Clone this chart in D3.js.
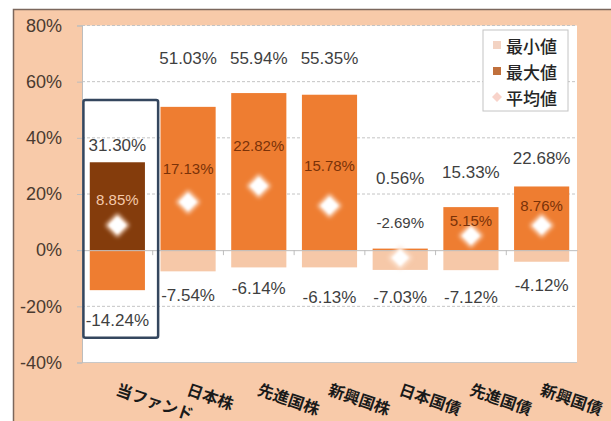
<!DOCTYPE html>
<html>
<head>
<meta charset="utf-8">
<script src="https://cdn.jsdelivr.net/npm/d3@7"></script>
<style>
  body { margin: 0; background: #fff; }
  text { font-family: "Liberation Sans", Arial, sans-serif; }
  .jp { font-family: "Noto Sans CJK JP", sans-serif; }
</style>
</head>
<body>
<div id="chart"></div>
<script>
// Categories and values (percent).
const categories = ["当ファンド", "日本株", "先進国株", "新興国株", "日本国債", "先進国債", "新興国債"];
const maxValues = [31.30, 51.03, 55.94, 55.35, 0.56, 15.33, 22.68];
const minValues = [-14.24, -7.54, -6.14, -6.13, -7.03, -7.12, -4.12];
const avgValues = [8.85, 17.13, 22.82, 15.78, -2.69, 5.15, 8.76];

// Where each data label sits, in percent units.
const maxLabelAt = [37.4, 68.3, 68.3, 68.3, 25.6, 27.8, 32.7];
const avgLabelAt = [18.1, 29.2, 37.4, 30.2, 10.0, 10.7, 16.0];
const minLabelAt = [-24.9, -16.0, -13.5, -16.7, -16.7, -16.7, -12.5];

const yTicks = [80, 60, 40, 20, 0, -20, -40];
const legendItems = ["最小値", "最大値", "平均値"];
// Range of the highlight frame around the fund (percent units).
const highlightRange = [53.5, -31.2];

const w = 611, h = 421;
const plot = { left: 82, right: 577, top: 25.5, bottom: 362.5 };

const colOrange = "#ee7d31", colDark = "#843c0c", colLight = "#f6c8a8", colFrame = "#f8caa9";

const x = d3.scaleBand()
    .domain(categories)
    .range([plot.left, plot.right])
    .paddingInner(0.22)
    .paddingOuter(0.11);
const y = d3.scaleLinear()
    .domain([-40, 80])
    .range([plot.bottom, plot.top]);

const svg = d3.select("#chart").append("svg")
    .attr("width", w)
    .attr("height", h);

// Soft glow for the average diamonds.
const defs = svg.append("defs");
defs.append("filter").attr("id", "glow")
    .attr("x", "-50%").attr("y", "-50%").attr("width", "200%").attr("height", "200%")
    .append("feGaussianBlur").attr("stdDeviation", 2.2);
defs.append("filter").attr("id", "soft")
    .append("feGaussianBlur").attr("stdDeviation", 0.8);

// Outer frame.
svg.append("rect")
    .attr("x", 13.5).attr("y", 9.5)
    .attr("width", w).attr("height", h)
    .attr("fill", colFrame)
    .attr("stroke", "#7b675c")
    .attr("stroke-width", 1.5);

// Plot area.
svg.append("rect")
    .attr("x", plot.left).attr("y", plot.top)
    .attr("width", plot.right - plot.left)
    .attr("height", plot.bottom - plot.top)
    .attr("fill", "#fff");

// Gridlines.
svg.append("g").selectAll("line")
    .data(yTicks.filter(d => d !== 0 && d !== -40))
    .join("line")
    .attr("x1", plot.left).attr("x2", plot.right)
    .attr("y1", d => y(d)).attr("y2", d => y(d))
    .attr("stroke", "#c4c4c4")
    .attr("stroke-dasharray", "3,2");

// Bottom edge of plot area.
svg.append("line")
    .attr("x1", plot.left).attr("x2", plot.right)
    .attr("y1", y(-40)).attr("y2", y(-40))
    .attr("stroke", "#c8c8c8");

// Y axis.
const yAxis = d3.axisLeft(y)
    .tickValues(yTicks)
    .tickSize(5)
    .tickPadding(15)
    .tickFormat(d => d + "%");
const yg = svg.append("g")
    .attr("transform", `translate(${plot.left},0)`)
    .call(yAxis);
yg.select(".domain").attr("stroke", "#bdbdbd");
yg.selectAll(".tick line").attr("stroke", "#bdbdbd");
yg.selectAll(".tick text")
    .attr("fill", "#4a3a30")
    .style("font-size", "18px")
    .style("font-family", "Liberation Sans, Arial, sans-serif");

// Min bars.
svg.append("g").selectAll("rect")
    .data(categories)
    .join("rect")
    .attr("x", d => x(d))
    .attr("width", x.bandwidth())
    .attr("y", y(0))
    .attr("height", (d, i) => y(minValues[i]) - y(0))
    .attr("fill", (d, i) => i === 0 ? colOrange : colLight);

// Max bars.
svg.append("g").selectAll("rect")
    .data(categories)
    .join("rect")
    .attr("x", d => x(d))
    .attr("width", x.bandwidth())
    .attr("y", (d, i) => y(maxValues[i]))
    .attr("height", (d, i) => y(0) - y(maxValues[i]))
    .attr("fill", (d, i) => i === 0 ? colDark : colOrange);

// Category axis along 0%.
const xAxis = d3.axisBottom(x).tickSize(0).tickFormat("");
const xg = svg.append("g")
    .attr("transform", `translate(0,${y(0)})`)
    .call(xAxis);
xg.select(".domain").attr("stroke", "#bdbdbd");
svg.append("g").selectAll("line")
    .data(categories.slice(1))
    .join("line")
    .attr("x1", d => x(d) - x.step() * x.paddingInner() / 2)
    .attr("x2", d => x(d) - x.step() * x.paddingInner() / 2)
    .attr("y1", y(0)).attr("y2", y(0) + 5)
    .attr("stroke", "#bdbdbd");

// Highlight frame around the fund.
svg.append("rect")
    .attr("x", x(categories[0]) - x.step() * 0.09)
    .attr("width", x.step() + 4)
    .attr("y", y(highlightRange[0]))
    .attr("height", y(highlightRange[1]) - y(highlightRange[0]))
    .attr("rx", 2)
    .attr("fill", "none")
    .attr("stroke", "#34465e")
    .attr("stroke-width", 2.5);

// Average diamonds.
const diamond = s => `M0,${-s}L${s},0L0,${s}L${-s},0Z`;
const dg = svg.append("g").selectAll("g")
    .data(categories)
    .join("g")
    .attr("transform", (d, i) => `translate(${x(d) + x.bandwidth() / 2},${y(avgValues[i])})`);
dg.append("path").attr("d", diamond(12)).attr("fill", "#fde6d6").attr("filter", "url(#glow)");
dg.append("path").attr("d", diamond(8.5)).attr("fill", "#fff").attr("filter", "url(#soft)");

// Labels.
const fmt = v => v.toFixed(2) + "%";
const labels = svg.append("g").attr("text-anchor", "middle").attr("dominant-baseline", "central");
labels.selectAll(".max")
    .data(categories)
    .join("text")
    .attr("x", d => x(d) + x.bandwidth() / 2)
    .attr("y", (d, i) => y(maxLabelAt[i]))
    .attr("fill", "#3f3f3f")
    .style("font-size", "17px")
    .text((d, i) => fmt(maxValues[i]));
labels.selectAll(".min")
    .data(categories)
    .join("text")
    .attr("x", d => x(d) + x.bandwidth() / 2)
    .attr("y", (d, i) => y(minLabelAt[i]))
    .attr("fill", "#3f3f3f")
    .style("font-size", "17px")
    .text((d, i) => fmt(minValues[i]));
labels.selectAll(".avg")
    .data(categories)
    .join("text")
    .attr("x", d => x(d) + x.bandwidth() / 2)
    .attr("y", (d, i) => y(avgLabelAt[i]))
    .attr("fill", (d, i) => i === 0 ? "#f4c9aa" : (avgValues[i] < 0 ? "#404040" : "#7a3208"))
    .style("font-size", "15px")
    .text((d, i) => fmt(avgValues[i]));

// Rotated category labels.
svg.append("g").selectAll("text")
    .data(categories)
    .join("text")
    .attr("class", "jp")
    .attr("transform", d => `translate(${x(d) + x.bandwidth() / 2},388) rotate(19)`)
    .attr("dominant-baseline", "central")
    .attr("fill", "#1a1a1a")
    .style("font-size", "16px")
    .style("font-weight", "bold")
    .text(d => d);

// Legend.
const lg = svg.append("g").attr("transform", "translate(483,30)");
lg.append("rect")
    .attr("width", 85).attr("height", 81)
    .attr("fill", "#fff")
    .attr("stroke", "#c4c4c4");
const li = lg.selectAll("g")
    .data(legendItems)
    .join("g")
    .attr("transform", (d, i) => `translate(14,${15 + i * 26})`);
li.filter((d, i) => i < 2).append("rect")
    .attr("x", -4).attr("y", -4).attr("width", 8).attr("height", 8)
    .attr("fill", (d, i) => i === 0 ? "#f3d3c3" : "#c0703c");
li.filter((d, i) => i === 2).append("path")
    .attr("d", diamond(5))
    .attr("fill", "#f8d3ca");
li.append("text")
    .attr("class", "jp")
    .attr("x", 9)
    .attr("dominant-baseline", "central")
    .attr("fill", "#262626")
    .style("font-size", "17px")
    .style("font-weight", 500)
    .text(d => d);
</script>
</body>
</html>
